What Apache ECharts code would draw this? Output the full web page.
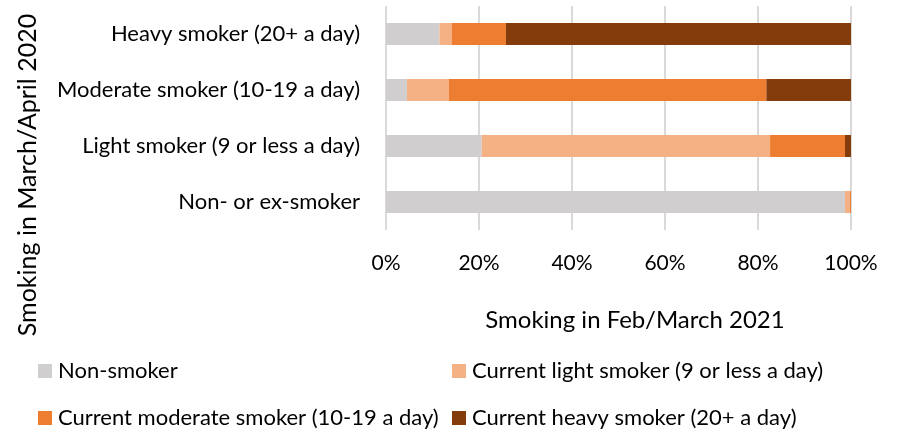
<!DOCTYPE html>
<html>
<head>
<meta charset="utf-8">
<script src="https://cdn.jsdelivr.net/npm/echarts@6/dist/echarts.min.js"></script>
<style>
  html, body { margin:0; padding:0; background:#fff; }
  #chart { width:902px; height:430px; }
</style>
</head>
<body>
<div id="chart"></div>
<script>
// categories (bottom -> top as drawn by ECharts)
const categories = ['Non- or ex-smoker', 'Light smoker (9 or less a day)', 'Moderate smoker (10-19 a day)', 'Heavy smoker (20+ a day)'];
const seriesNames = ['Non-smoker', 'Current light smoker (9 or less a day)', 'Current moderate smoker (10-19 a day)', 'Current heavy smoker (20+ a day)'];
const nonSmoker  = [98.7, 20.6, 4.5, 11.5];
const lightSmk   = [1.1, 62.0, 9.0, 2.7];
const modSmk     = [0.2, 16.1, 68.3, 11.6];
const heavySmk   = [0.0, 1.3, 18.2, 74.2];
const xTicks = [0, 20, 40, 60, 80, 100];
const colors = ['#D0CECE', '#F4B183', '#ED7D31', '#843C0C'];

const FONT = 'Lato';
const chart = echarts.init(document.getElementById('chart'));

const values = [nonSmoker, lightSmk, modSmk, heavySmk];
const series = seriesNames.map((n, i) => ({
  name: n,
  type: 'bar',
  stack: 'all',
  barWidth: 22,
  itemStyle: { color: colors[i] },
  data: values[i]
}));

// legend item: icon + text, two rows of two
const legendPos = [[38, 360], [452, 360], [38, 407], [452, 407]];
const legends = seriesNames.map((n, i) => ({
  data: [n],
  left: legendPos[i][0], top: legendPos[i][1], padding: 0,
  icon: 'rect', itemWidth: 14, itemHeight: 14, itemGap: 6,
  textStyle: { fontFamily: FONT, fontSize: 22, color: '#000', padding: [0, 0, 0, 1] }
}));

chart.setOption({
  animation: false,
  color: colors,
  grid: { left: 386, right: 51, top: 6, bottom: 200, containLabel: false },
  legend: legends,
  xAxis: {
    type: 'value', min: 0, max: 100, interval: 20,
    axisLine: { show: false }, axisTick: { show: false },
    splitLine: { lineStyle: { color: '#D9D9D9', width: 2 } },
    axisLabel: { fontFamily: FONT, fontSize: 21, color: '#000', margin: 23,
      formatter: v => xTicks.includes(v) ? v + '%' : '' }
  },
  yAxis: {
    type: 'category', data: categories,
    axisLine: { show: false }, axisTick: { show: false },
    axisLabel: { fontFamily: FONT, fontSize: 22, color: '#000', margin: 26 }
  },
  graphic: [{
    type: 'text', x: 28, y: 175, rotation: Math.PI / 2,
    style: { text: 'Smoking in March/April 2020', fontFamily: FONT, fontSize: 25, fill: '#000',
      textAlign: 'center', textVerticalAlign: 'middle' }
  }, {
    type: 'text', x: 635, y: 320,
    style: { text: 'Smoking in Feb/March 2021', fontFamily: FONT, fontSize: 24, fill: '#000',
      textAlign: 'center', textVerticalAlign: 'middle' }
  }],
  series
});
</script>
</body>
</html>
